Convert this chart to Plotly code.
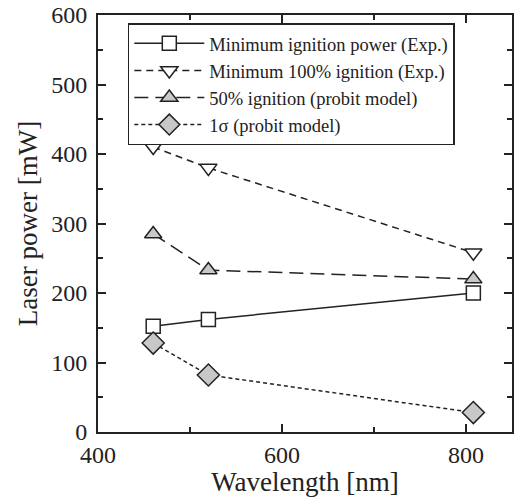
import plotly.graph_objects as go

wavelength = [460, 520, 808]
min_ign = [152, 162, 200]
min_100 = [410, 380, 258]
ign_50 = [285, 233, 220]
sigma1 = [128, 82, 28]

names = ["Minimum ignition power (Exp.)", "Minimum 100% ignition (Exp.)",
         "50% ignition (probit model)", "1σ (probit model)"]

FONT = "Times New Roman, Liberation Serif, Times, serif"
fig = go.Figure()
styles = [
    (min_ign, "solid", "square", "white", 14),
    (min_100, "7px,5px", "triangle-down", "white", 15),
    (ign_50, "14px,7px", "triangle-up", "#c8c8c8", 15),
    (sigma1, "4px,3px", "diamond", "#c8c8c8", 17),
]
for (ys, dash, sym, fill, sz), nm in zip(styles, names):
    fig.add_trace(go.Scatter(
        x=wavelength, y=ys, name=nm, mode="lines+markers",
        line=dict(color="#222222", width=1.5, dash=dash),
        marker=dict(symbol=sym, size=sz, color=fill, line=dict(color="#222222", width=1.5)),
    ))

axis_common = dict(showline=True, linecolor="#222222", linewidth=2, mirror="ticks",
                   ticks="inside", ticklen=8, tickwidth=1.5, tickcolor="#222222",
                   showgrid=False, zeroline=False,
                   tickfont=dict(family=FONT, size=24, color="#222222"),
                   minor=dict(ticks="inside", ticklen=5, tickwidth=1.5, tickcolor="#222222"))

fig.update_xaxes(range=[400, 850], dtick=200, tick0=400,
                 title=dict(text="Wavelength [nm]", font=dict(family=FONT, size=27, color="#222222"), standoff=4),
                 **axis_common)
fig.update_xaxes(minor_dtick=100)
fig.update_yaxes(range=[0, 600], dtick=100, ticklabelstandoff=4,
                 title=dict(text="Laser power [mW]", font=dict(family=FONT, size=27, color="#222222"), standoff=6),
                 **axis_common)
fig.update_yaxes(minor_dtick=50)

fig.update_layout(
    width=516, height=497,
    margin=dict(l=98, r=2, t=15, b=65),
    plot_bgcolor="white", paper_bgcolor="white",
    font=dict(family=FONT, color="#222222"),
    legend=dict(x=0.072, y=0.98, xanchor="left", yanchor="top",
                bordercolor="#222222", borderwidth=1.5, bgcolor="white",
                font=dict(family=FONT, size=18.5, color="#222222"),
                itemwidth=70, tracegroupgap=0),
)

fig.write_html("out.html")
